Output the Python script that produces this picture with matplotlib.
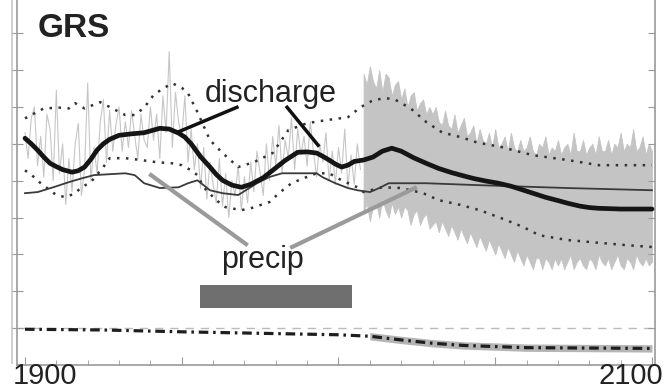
import numpy as np
import matplotlib.pyplot as plt
from matplotlib.patches import Rectangle

plt.rcParams["font.family"] = ["Liberation Sans", "DejaVu Sans"]

# ---- annual discharge, observed period ----
obs_years = np.arange(1900, 2008)
obs_q = [
    6.3, 5.6, 6.7, 7.0, 5.4, 6.2, 5.1, 6.8, 6.4, 5.0,
    7.45, 5.2, 6.0, 4.35, 5.6, 4.7, 6.0, 6.55, 4.6, 5.3,
    7.65, 5.0, 5.9, 5.2, 6.6, 7.2, 5.5, 6.9, 5.8, 6.5,
    7.0, 5.8, 6.6, 5.9, 6.9, 6.2, 5.6, 6.8, 6.1, 5.9,
    7.0, 6.1, 6.8, 5.6, 7.3, 6.3, 8.5, 5.9, 7.4, 6.6,
    6.2, 7.3, 5.5, 6.4, 5.3, 6.0, 4.8, 5.9, 4.5, 5.5,
    4.9, 4.4, 5.6, 4.3, 5.2, 4.0, 5.0, 4.6, 5.4, 4.2,
    5.1, 4.4, 5.5, 4.7, 5.8, 5.2, 4.6, 6.0, 5.0, 6.2,
    5.4, 6.5, 5.2, 6.1, 5.6, 6.7, 5.3, 6.4, 5.7, 6.2,
    5.4, 6.6, 5.8, 5.1, 6.0, 5.5, 6.3, 5.0, 5.8, 4.9,
    5.9, 5.2, 6.4, 4.8, 5.7, 4.9, 6.0, 5.3,
]

# ---- simulated discharge spread, 2008-2100 ----
sim_years = np.arange(2008, 2101)
sim_hi = [
    7.9, 7.6,
    8.1, 7.7, 7.5, 8.0, 7.4, 7.9, 7.8, 7.3, 7.6, 7.7,
    7.2, 7.5, 7.0, 7.3, 7.4, 6.9, 7.1, 7.2, 6.8, 7.0,
    6.8, 7.0, 6.6, 6.5, 6.9, 6.5, 6.4, 6.8, 6.3, 6.5,
    6.7, 6.2, 6.3, 6.5, 6.0, 6.4, 6.1, 6.0, 6.3, 5.9,
    6.4, 5.9, 6.0, 6.2, 5.8, 6.3, 5.9, 5.8, 6.1, 5.8,
    5.9, 6.2, 5.8, 5.7, 6.0, 5.9, 6.2, 5.7, 5.9, 5.8,
    6.1, 5.7, 5.9, 6.0, 5.7, 6.3, 5.8, 5.8, 6.1, 5.7,
    5.9, 6.0, 5.7, 6.2, 5.8, 5.8, 6.1, 5.7, 6.0, 5.9,
    6.3, 5.8, 6.0, 5.9, 6.4, 5.8, 5.9, 6.2, 5.7, 6.0,
    5.8,
]
sim_lo = [
    4.1, 4.4,
    3.9, 4.3, 4.4, 4.0, 4.5, 4.2, 4.0, 4.4, 4.1, 4.3,
    4.0, 4.3, 4.2, 3.8, 4.1, 4.2, 3.8, 4.0, 4.1, 3.7,
    3.8, 3.9, 3.6, 3.9, 3.7, 3.5, 3.8, 3.6, 3.4, 3.7,
    3.5, 3.3, 3.6, 3.4, 3.2, 3.5, 3.3, 3.1, 3.4, 3.2,
    3.0, 3.3, 3.1, 2.9, 3.2, 3.0, 2.8, 3.1, 2.9, 2.7,
    3.0, 2.8, 2.6, 2.9, 2.9, 2.6, 2.9, 2.8, 2.6, 2.9,
    2.7, 2.9, 2.6, 2.8, 3.0, 2.6, 2.8, 2.9, 2.7, 2.6,
    2.9, 2.8, 2.6, 3.0, 2.8, 2.7, 2.9, 2.6, 2.8, 3.0,
    2.7, 2.6, 2.9, 2.8, 2.6, 3.0, 2.8, 2.7, 2.9, 2.7,
    2.8,
]

# ---- smoothed discharge (thick) ----
q_smooth_years = [1900, 1902, 1904, 1906, 1908, 1910, 1912, 1915, 1917, 1919,
                  1921, 1923, 1925, 1927, 1930, 1934, 1938, 1943, 1946, 1949,
                  1951, 1953, 1956, 1959, 1961, 1963, 1966, 1969, 1972, 1976,
                  1979, 1983, 1987, 1990, 1993, 1995, 1997, 1999, 2001, 2003,
                  2005, 2008, 2011, 2014, 2017, 2020, 2024, 2028, 2032, 2036,
                  2039, 2043, 2047, 2051, 2055, 2058, 2062, 2066, 2070, 2073,
                  2077, 2080, 2083, 2090, 2100]
q_smooth = [6.15, 6.0, 5.83, 5.64, 5.47, 5.38, 5.3, 5.23, 5.27, 5.37,
            5.58, 5.83, 6.0, 6.12, 6.23, 6.27, 6.3, 6.42, 6.4, 6.29,
            6.18, 6.0, 5.65, 5.37, 5.17, 5.01, 4.88, 4.82, 4.9, 5.08,
            5.28, 5.55, 5.77, 5.78, 5.75, 5.66, 5.56, 5.45, 5.37, 5.42,
            5.52, 5.56, 5.64, 5.8, 5.88, 5.8, 5.62, 5.47, 5.33, 5.22,
            5.15, 5.06, 4.99, 4.93, 4.85, 4.77, 4.66, 4.55, 4.46, 4.39,
            4.31, 4.27, 4.25, 4.23, 4.23]

# ---- upper / lower spread of discharge (dotted) ----
q_up_years = [1900, 1906, 1911, 1914, 1916, 1919, 1924, 1929, 1932, 1935,
              1938, 1941, 1944, 1947, 1950, 1952, 1955, 1959, 1963, 1968,
              1973, 1979, 1984, 1990, 1996, 2003, 2007, 2011, 2015, 2018,
              2023, 2028, 2033, 2039, 2044, 2052, 2062, 2073, 2083, 2100]
q_up = [6.69, 6.96, 6.98, 6.96, 7.1, 6.96, 7.13, 6.91, 6.78, 6.78,
        6.98, 7.32, 7.5, 7.64, 7.52, 7.37, 6.86, 6.1, 5.75, 5.37,
        5.5, 5.75, 6.37, 6.56, 6.64, 6.72, 6.99, 7.18, 7.24, 7.2,
        6.96, 6.59, 6.31, 6.18, 6.04, 5.91, 5.69, 5.56, 5.42, 5.42]
q_low_years = [1900, 1903, 1905, 1910, 1913, 1916, 1918, 1921, 1925, 1927,
               1932, 1937, 1942, 1947, 1950, 1953, 1955, 1957, 1961, 1964,
               1969, 1972, 1978, 1981, 1985, 1989, 1993, 1997, 2001, 2006,
               2008, 2014, 2020, 2027, 2032, 2039, 2045, 2052, 2059, 2064,
               2073, 2081, 2092, 2100]
q_low = [5.28, 5.09, 4.93, 4.61, 4.55, 4.66, 4.82, 4.96, 5.37, 5.61,
         5.61, 5.56, 5.5, 5.47, 5.42, 5.28, 5.15, 4.82, 4.47, 4.28,
         4.2, 4.25, 4.42, 4.66, 4.93, 5.07, 5.2, 5.2, 5.01, 4.82,
         4.69, 4.82, 4.8, 4.66, 4.47, 4.34, 4.2, 3.98, 3.74, 3.52,
         3.39, 3.33, 3.25, 3.2]

# ---- smoothed precipitation (thin) ----
p_years = [1900, 1904, 1909, 1914, 1918, 1922, 1928, 1932, 1935, 1938,
           1943, 1949, 1952, 1955, 1959, 1963, 1968, 1974, 1978, 1982,
           1988, 1993, 1995, 1999, 2003, 2006, 2010, 2013, 2016, 2028,
           2044, 2073, 2100]
p_smooth = [4.66, 4.69, 4.82, 4.96, 5.06, 5.15, 5.18, 5.2, 5.15, 4.93,
            4.8, 4.82, 4.93, 5.01, 4.74, 4.66, 4.61, 4.93, 5.1, 5.2,
            5.2, 5.2, 5.09, 4.93, 4.8, 4.74, 4.69, 4.8, 4.93, 4.93,
            4.88, 4.8, 4.74]

# ---- lower panel (dash-dot) ----
low_years = [1900, 1925, 1950, 1975, 2000, 2010, 2020, 2030, 2040, 2050,
             2060, 2080, 2100]
low_vals = [0.97, 0.95, 0.90, 0.86, 0.82, 0.78, 0.68, 0.59, 0.53, 0.50,
            0.47, 0.46, 0.45]
low_ref = 1.0

# period bar
bar_start, bar_end = 1955.8, 2004.3
bar_lo, bar_hi = 1.54, 2.17

fig = plt.figure(figsize=(6.65, 3.9), dpi=100)
ax = fig.add_axes([17 / 665, 25 / 390, 638 / 665, 365 / 390])
ax.set_xlim(1897.45, 2100.96)
ax.set_ylim(0, 9.9)

# spread of simulated discharge
ax.fill_between(sim_years, sim_lo, sim_hi, color="#c4c4c4", lw=0.6,
                edgecolor="#c4c4c4", zorder=1)
ax.plot(obs_years, obs_q, color="#c6c6c6", lw=0.8, zorder=1)

dots = dict(color="#333333", lw=1.8, dashes=(1, 2.6), zorder=3)
ax.plot(q_up_years, q_up, **dots)
ax.plot(q_low_years, q_low, **dots)

ax.plot(p_years, p_smooth, color="#3a3a3a", lw=1.3, zorder=3)
ax.plot(q_smooth_years, q_smooth, color="#151515", lw=3.4,
        solid_capstyle="round", solid_joinstyle="round", zorder=4)

# labels with pointer lines
ax.text(1978.5, 7.34, "discharge", fontsize=22, color="#222222",
        ha="center", va="center", zorder=6)
ax.plot([1949.4, 1967.6], [6.34, 6.99], color="#111111", lw=2.5, zorder=5)
ax.plot([1983.6, 1993.5], [6.99, 5.96], color="#111111", lw=2.5, zorder=5)

ax.text(1975.6, 2.85, "precip", fontsize=22, color="#222222",
        ha="center", va="center", zorder=6)
ax.plot([1940.2, 1970.5], [5.15, 3.28], color="#9a9a9a", lw=3, zorder=5)
ax.plot([1985.2, 2024.4], [3.2, 4.8], color="#9a9a9a", lw=3, zorder=5)

ax.add_patch(Rectangle((bar_start, bar_lo), bar_end - bar_start,
                       bar_hi - bar_lo, color="#6f6f6f", lw=0, zorder=3))

# bottom series
ax.axhline(low_ref, color="#bbbbbb", lw=1, dashes=(6, 5), zorder=1)
band_years = [y for y in low_years if y >= 2010]
band_vals = np.array(low_vals[-len(band_years):])
ax.fill_between(band_years, band_vals - 0.1, band_vals + 0.1,
                color="#b5b5b5", lw=0, zorder=2)
ax.plot(low_years, low_vals, color="#1e1e1e", lw=2.3,
        dashes=(3, 1.5, 0.8, 1.5), zorder=3)

# axes styling
ax.spines["top"].set_visible(False)
for side in ["left", "right", "bottom"]:
    ax.spines[side].set_color("#9a9a9a")
    ax.spines[side].set_linewidth(1.2)

ax.set_xticks(np.arange(1900, 2101, 50))
ax.set_xticks(np.arange(1900, 2101, 10), minor=True)
ax.tick_params(axis="x", which="major", direction="in", length=6,
               color="#9a9a9a", labelbottom=False)
ax.tick_params(axis="x", which="minor", direction="in", length=3.5,
               color="#9a9a9a")
ax.set_yticks(np.arange(1, 10))
ax.tick_params(axis="y", direction="inout", length=9, color="#9a9a9a",
               labelleft=False)

ax_r = ax.twinx()
ax_r.set_ylim(ax.get_ylim())
ax_r.set_yticks(np.arange(1, 10))
ax_r.tick_params(axis="y", direction="in", length=5, color="#9a9a9a",
                 labelright=False)
for s in ax_r.spines.values():
    s.set_visible(False)

# second thin line outside the left axis
fig.add_artist(plt.Line2D([12 / 665, 12 / 665], [27 / 390, 1.0],
                          color="#c8c8c8", lw=1.2))

fig.text(38 / 665, (390 - 37) / 390, "GRS", fontsize=24, fontweight="bold",
         color="#222222", ha="left", va="baseline")
fig.text(13 / 665, 0, "1900", fontsize=21, color="#222222",
         ha="left", va="bottom")
fig.text(663 / 665, 0, "2100", fontsize=21, color="#222222",
         ha="right", va="bottom")

fig.savefig("out.png", dpi=100)
